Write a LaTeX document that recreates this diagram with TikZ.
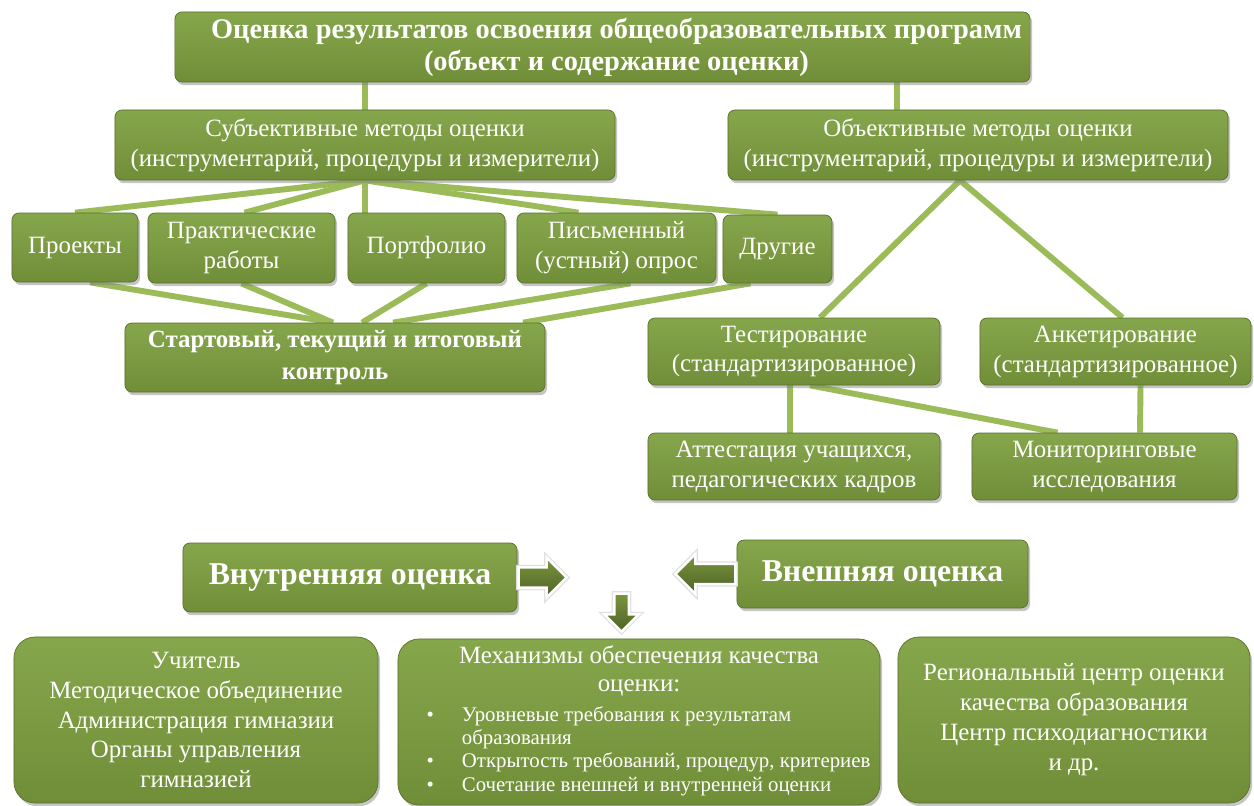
\documentclass[tikz,border=0pt]{standalone}
\usepackage{fontspec}
\setmainfont{Liberation Serif}
\usetikzlibrary{calc,shadows,shapes.arrows,backgrounds}
\definecolor{boxtop}{RGB}{134,166,76}
\definecolor{boxbot}{RGB}{112,142,56}
\definecolor{boxedge}{RGB}{88,112,44}
\definecolor{linkgreen}{RGB}{155,187,89}
\definecolor{arrlight}{RGB}{122,150,62}
\definecolor{arrdark}{RGB}{78,98,38}

\begin{document}
\begin{tikzpicture}[x=0.025cm,y=-0.025cm,
    box/.style={draw=boxedge,line width=0.5pt,top color=boxtop,bottom color=boxbot,
      rounded corners=5pt,text=white,align=center,inner sep=2pt,
      drop shadow={shadow xshift=0.5mm,shadow yshift=-0.8mm,opacity=0.45},
      font=\fontsize{17.7}{21.3}\selectfont},
    bigbox/.style={box,rounded corners=15pt},
    headbox/.style={box,font=\fontsize{20.2}{22.7}\selectfont\bfseries},
    link/.style={draw=linkgreen,line width=4.2pt},
    blockarrow/.style={single arrow,draw=white,line width=1.8pt,inner sep=0pt,
      top color=arrlight,bottom color=arrdark,
      preaction={draw=black!12,line width=3.6pt}}]

    \useasboundingbox (0,0) rectangle (1254,805);

    \node[headbox,minimum width=21.375cm,minimum height=1.75cm] (top) at (602.5,47)
        {\hspace*{0.7cm}Оценка результатов освоения общеобразовательных программ\\\hspace*{0.7cm}(объект и содержание оценки)};
    \node[box,minimum width=12.5cm,minimum height=1.75cm] (subj) at (365,145)
        {Субъективные методы оценки\\(инструментарий, процедуры и измерители)};
    \node[box,minimum width=12.5cm,minimum height=1.75cm] (obj) at (978,145)
        {Объективные методы оценки\\(инструментарий, процедуры и измерители)};

    \node[box,minimum width=3.15cm,minimum height=1.725cm] (proj) at (75,247.5) {Проекты};
    \node[box,minimum width=4.675cm,minimum height=1.75cm] (prac) at (241.5,248) {Практические\\работы};
    \node[box,minimum width=3.925cm,minimum height=1.75cm] (port) at (426.5,248) {Портфолио};
    \node[box,minimum width=4.975cm,minimum height=1.75cm] (writ) at (616.5,248) {Письменный\\(устный) опрос};
    \node[box,minimum width=2.725cm,minimum height=1.7cm] (other) at (777.5,249) {Другие};

    \node[headbox,font=\fontsize{17.7}{22.7}\selectfont\bfseries,minimum width=10.5cm,minimum height=1.725cm] (ctrl) at (335,357.5)
        {Стартовый, текущий и итоговый\\контроль};
    \node[box,minimum width=7.3cm,minimum height=1.675cm] (test) at (794,351.5)
        {Тестирование\\(стандартизированное)};
    \node[box,minimum width=6.775cm,minimum height=1.675cm] (surv) at (1115.5,351.5)
        {Анкетирование\\(стандартизированное)};
    \node[box,minimum width=7.3cm,minimum height=1.675cm] (att) at (794,466.5)
        {Аттестация учащихся,\\педагогических кадров};
    \node[box,minimum width=6.625cm,minimum height=1.675cm] (mon) at (1104.5,466.5)
        {Мониторинговые\\исследования};

    \node[headbox,font=\fontsize{22.6}{28}\selectfont\bfseries,minimum width=8.35cm,minimum height=1.725cm] (intern) at (350,577.5)
        {Внутренняя оценка};
    \node[headbox,font=\fontsize{22.6}{28}\selectfont\bfseries,minimum width=7.275cm,minimum height=1.7cm] (extern) at (882.5,574)
        {Внешняя оценка};

    \node[blockarrow,minimum height=1.2cm,minimum width=0.9cm,inner ysep=0.22cm,anchor=tail] (arrin) at (intern.east) {};
    \node[blockarrow,minimum height=1.5cm,minimum width=0.9cm,inner ysep=0.22cm,anchor=tail,shape border rotate=180] (arrex) at (extern.west) {};
    \node[blockarrow,minimum height=0.95cm,minimum width=0.7cm,inner xsep=0.15cm,shape border rotate=270] (arrdown) at (621.5,609) {};

    \node[bigbox,minimum width=9.1cm,minimum height=4.15cm] (inner) at (196,720)
        {Учитель\\Методическое объединение\\Администрация гимназии\\Органы управления\\гимназией};
    \node[bigbox,minimum width=12.05cm,minimum height=4.15cm,font=\fontsize{17.7}{20}\selectfont] (mech) at (639,722)
        {Механизмы обеспечения качества\\оценки:\\[5pt]
         \hspace*{0.475cm}{\fontsize{14.8}{16.6}\selectfont
         \begin{tabular}{@{}l@{\hspace{0.7cm}}l@{}}
         \textbullet & Уровневые требования к результатам\\
                     & образования\\
         \textbullet & Открытость требований, процедур, критериев\\
         \textbullet & Сочетание внешней и внутренней оценки
         \end{tabular}}};
    \node[bigbox,minimum width=8.8cm,minimum height=4.15cm] (outer) at (1074,720)
        {Региональный центр оценки\\качества образования\\Центр психодиагностики\\и др.};

    \begin{scope}[on background layer]
        \fill[white] (0,0) rectangle (1254,805);
        \draw[link] (top.south -| subj.north) -- (subj.north);
        \draw[link] ($(obj.north)+(-81,0)$) coordinate (o1) -- (o1 |- top.south);

        \draw[link] (subj.south) -- (proj.north);
        \draw[link] (subj.south) -- ($(prac.north)+(3,0)$);
        \draw[link] (subj.south) -- (subj.south |- port.north);
        \draw[link] (subj.south) -- ($(writ.north)+(-38,0)$);
        \draw[link] (subj.south) -- (other.north);

        \draw[link] ($(proj.south)+(15,0)$) -- ($(ctrl.north)+(-2,0)$);
        \draw[link] (prac.south) -- ($(ctrl.north)+(-2,0)$);
        \draw[link] (port.south) -- ($(ctrl.north)+(27,0)$);
        \draw[link] ($(writ.south)+(14,0)$) -- ($(ctrl.north)+(58,0)$);
        \draw[link] ($(other.south)+(-27,0)$) -- ($(ctrl.north)+(188,0)$);

        \draw[link] ($(obj.south)+(-18,0)$) -- ($(test.north)+(26,0)$);
        \draw[link] ($(obj.south)+(-18,0)$) -- ($(surv.north)+(7,0)$);
        \draw[link] ($(test.south)+(-4,0)$) -- ($(att.north)+(-4,0)$);
        \draw[link] ($(surv.south)+(25,0)$) -- ($(mon.north)+(35.5,0)$);
        \draw[link] ($(test.south)+(16,0)$) -- ($(mon.north)+(-47,0)$);
    \end{scope}
\end{tikzpicture}
\end{document}
